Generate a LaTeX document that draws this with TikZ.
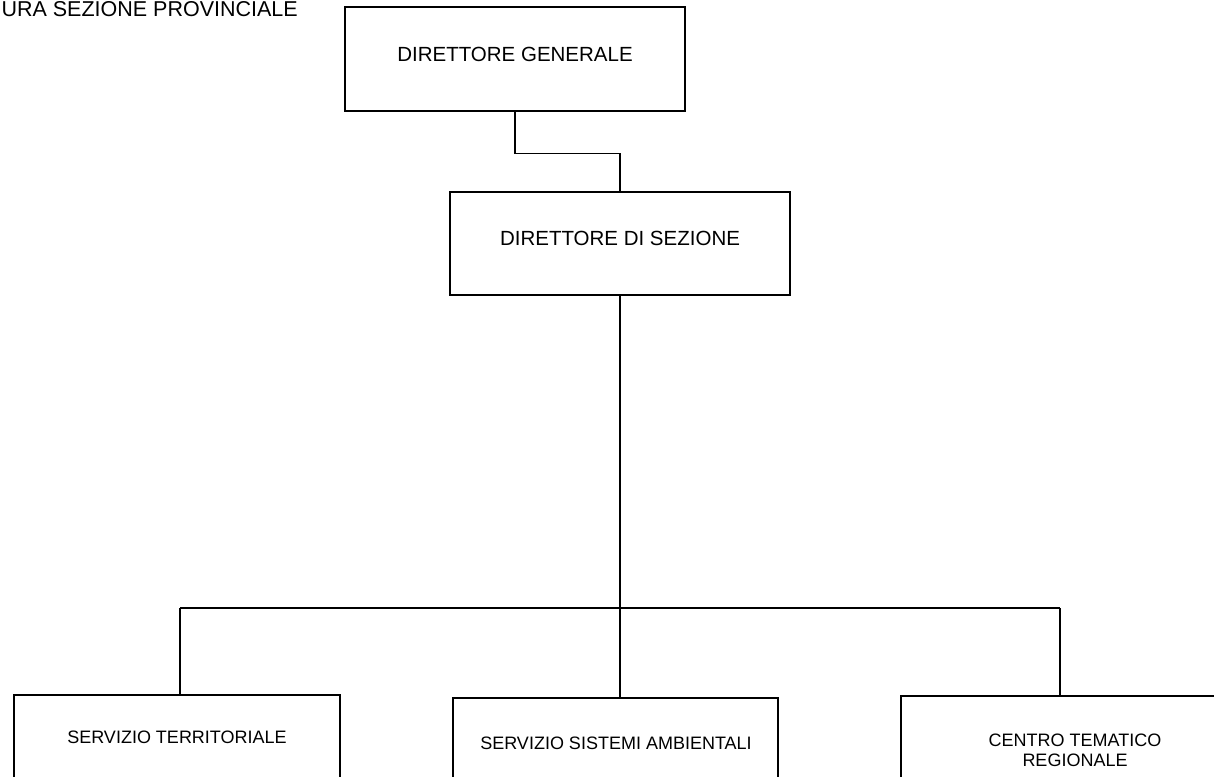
\documentclass[tikz,border=0pt]{standalone}
\usepackage{fontspec}
\setmainfont{Liberation Sans}
\begin{document}
\begin{tikzpicture}[x=1pt,y=-1pt,
  box/.style={draw=black, line width=1.4pt, fill=white, inner sep=0pt},
  big/.style={font=\fontsize{20.5}{24}\selectfont, inner sep=0pt},
  small/.style={font=\fontsize{18}{20}\selectfont, inner sep=0pt, align=center},
  conn/.style={draw=black, line width=1.4pt},
  trunk/.style={draw=black, line width=2.7pt}]
\useasboundingbox (0,0) rectangle (1214,776);
\clip (0,0) rectangle (1214,776);
\fill[white] (0,0) rectangle (1214,776);
% title
\node[font=\fontsize{21.5}{26}\selectfont, inner sep=0pt, anchor=east] (title) at (298,9) {URA SEZIONE PROVINCIALE};
% boxes
\node[box, minimum width=340, minimum height=104] (dg) at (515,59) {};
\node[big] (dgt) at (515,54) {DIRETTORE GENERALE};
\node[box, minimum width=340, minimum height=103] (ds) at (620,243.5) {};
\node[big] (dst) at (620,238) {DIRETTORE DI SEZIONE};
\node[box, minimum width=326, minimum height=105] (st) at (177,747.5) {};
\node[small] (stt) at (177,737) {SERVIZIO TERRITORIALE};
\node[box, minimum width=325, minimum height=102] (ssa) at (615.5,749) {};
\node[small] (ssat) at (616,743) {SERVIZIO SISTEMI AMBIENTALI};
\node[box, minimum width=339, minimum height=104] (ctr) at (1070.5,748) {};
\node[small] (ctrt) at (1075,750) {CENTRO TEMATICO\\REGIONALE};
% connectors
\draw[conn] (dg.south) -- ++(0,42) -| (ds.north);
\coordinate (bus) at (620,608);
\coordinate (busL) at (180,608);
\coordinate (busR) at (1060,608);
\draw[trunk] (ds.south) -- (bus);
\draw[conn] (busL) -- (busR);
\draw[conn] (busL) -- (busL |- st.north);
\draw[conn] (busR) -- (busR |- ctr.north);
\draw[conn] (bus) -- (bus |- ssa.north);
\end{tikzpicture}
\end{document}
